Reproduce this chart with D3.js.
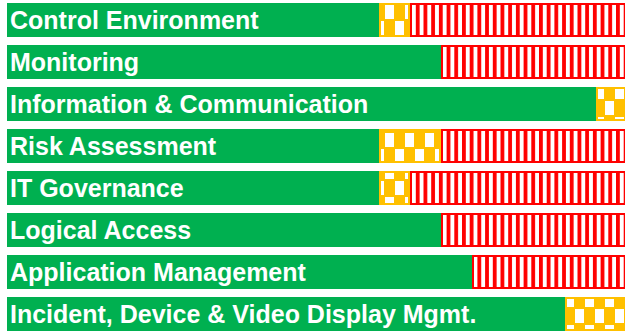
<!DOCTYPE html>
<html>
<head>
<meta charset="utf-8">
<script src="https://cdn.jsdelivr.net/npm/d3@7"></script>
<style>
html,body{margin:0;padding:0;background:#fff;}
svg{display:block;}
</style>
</head>
<body>
<svg id="chart" width="625" height="335"></svg>
<script>
const categories = ["Control Environment","Monitoring","Information & Communication","Risk Assessment","IT Governance","Logical Access","Application Management","Incident, Device & Video Display Mgmt."];
const greenValues = [12,14,19,12,12,14,15,18];
const yellowValues = [1,0,1,2,1,0,0,2];
const redValues = [7,6,0,6,7,6,5,0];
const xDomain = [0,20];

const svg = d3.select("#chart");
const defs = svg.append("defs");

const stripe = defs.append("pattern").attr("id","stripes")
  .attr("patternUnits","userSpaceOnUse").attr("width",7.7).attr("height",10);
stripe.append("rect").attr("width",7.7).attr("height",10).attr("fill","#fff");
stripe.append("rect").attr("width",3.8).attr("height",10).attr("fill","#FF0000");

const check = defs.append("pattern").attr("id","checker")
  .attr("patternUnits","userSpaceOnUse").attr("width",20).attr("height",32)
  .attr("x",4).attr("y",4);
check.append("rect").attr("width",20).attr("height",32).attr("fill","#FFC000");
check.append("rect").attr("x",1).attr("y",1).attr("width",9).attr("height",14).attr("fill","#fff");
check.append("rect").attr("x",11).attr("y",17).attr("width",9).attr("height",14).attr("fill","#fff");

const x = d3.scaleLinear().domain(xDomain).range([7,627]);
const y = d3.scaleBand().domain(categories).range([-1,335])
  .paddingInner(8/42).paddingOuter(4/42);

const rows = categories.map((c,i)=>({cat:c,g:greenValues[i],yv:yellowValues[i],r:redValues[i]}));

const row = svg.selectAll("g.row").data(rows).join("g").attr("class","row");

row.append("rect")
  .attr("x",d=>x(0)).attr("y",d=>y(d.cat))
  .attr("width",d=>x(d.g)-x(0)).attr("height",y.bandwidth())
  .attr("fill","#00B050");

row.filter(d=>d.yv>0).append("rect")
  .attr("x",d=>x(d.g)+1).attr("y",d=>y(d.cat)+1)
  .attr("width",d=>x(d.g+d.yv)-x(d.g)-2).attr("height",y.bandwidth()-2)
  .attr("fill","url(#checker)").attr("stroke","#FFC000").attr("stroke-width",2);

row.filter(d=>d.r>0).append("rect")
  .attr("x",d=>x(d.g+d.yv)+1).attr("y",d=>y(d.cat)+1)
  .attr("width",d=>x(d.g+d.yv+d.r)-x(d.g+d.yv)-2).attr("height",y.bandwidth()-2)
  .attr("fill","url(#stripes)").attr("stroke","#FF0000").attr("stroke-width",2);

row.append("text")
  .attr("x",10).attr("y",d=>y(d.cat)+y.bandwidth()/2)
  .attr("dy","0.36em")
  .attr("fill","#fff")
  .attr("font-family","Liberation Sans, Arial, sans-serif")
  .attr("font-size",25).attr("font-weight","bold")
  .text(d=>d.cat);
</script>
</body>
</html>
